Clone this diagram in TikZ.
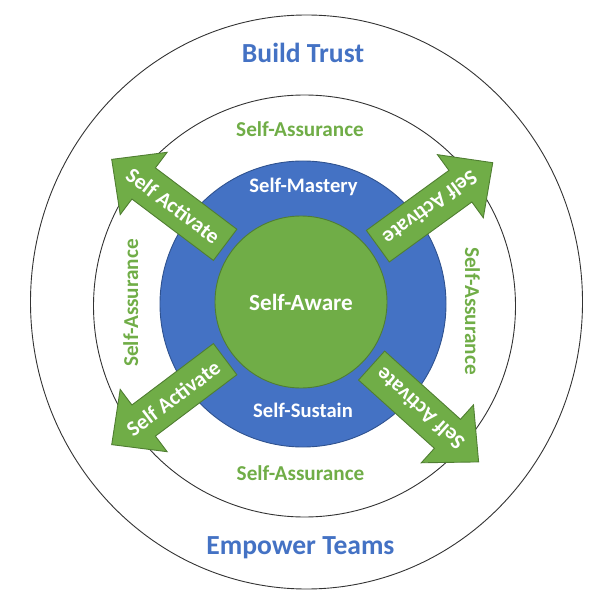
\documentclass[tikz,border=0pt]{standalone}
\usepackage{fontspec}
\setmainfont{Carlito}
\usetikzlibrary{positioning, shapes.geometric}

\definecolor{ringblue}{HTML}{4472C4}
\definecolor{ringblueline}{HTML}{2F528F}
\definecolor{coregreen}{HTML}{70AD47}
\definecolor{coregreenline}{HTML}{507E32}

\begin{document}
\begin{tikzpicture}[
    x=1pt, y=-1pt,
    ring/.style={
        draw=black!80,
        line width=0.9pt,
        inner sep=0pt
    },
    disc/.style={
        circle,
        line width=0.9pt,
        inner sep=0pt
    },
    title/.style={
        font=\fontsize{27.6}{32}\selectfont\bfseries,
        text=ringblue,
        anchor=base
    },
    assure/.style={
        font=\fontsize{21.2}{25}\selectfont\bfseries,
        text=coregreen,
        anchor=base
    },
    inlabel/.style={
        font=\fontsize{20.6}{24}\selectfont\bfseries,
        text=white,
        anchor=base
    },
    actarrow/.style={
        fill=coregreen,
        draw=coregreenline,
        line width=0.9pt
    },
    acttext/.style={
        font=\fontsize{21.5}{25}\selectfont\bfseries,
        text=white
    }
]
\useasboundingbox (0,0) rectangle (608,599);

% rings
\node[ring, ellipse, minimum width=552pt, minimum height=574pt] (trustring) at (306.5,302) {};
\node[ring, circle, minimum size=422pt] (assurering) at (304.5,306) {};

% core discs
\node[disc, fill=ringblue, draw=ringblueline, minimum size=286pt] (mastery) at (303,304) {};
\node[disc, fill=coregreen, draw=coregreenline, minimum size=172pt,
      font=\fontsize{23.2}{27}\selectfont\bfseries, text=white] (aware) at (301,302) {Self-Aware};

% outer labels
\node[title] (trust) at (303,63) {Build Trust};
\node[title] (empower) at (300.5,554) {Empower Teams};
\node[assure] (assureN) at (300,137) {Self-Assurance};
\node[assure] (assureS) at (300.5,480.5) {Self-Assurance};
\node[assure, rotate=90] (assureW) at (138,303) {Self-Assurance};
\node[assure, rotate=-90] (assureE) at (465,311) {Self-Assurance};

% labels on the blue disc
\node[inlabel] (masteryLbl) at (303.5,193) {Self-Mastery};
\node[inlabel] (sustainLbl) at (303,417) {Self-Sustain};

% self activate arrows
\begin{scope}[shift={(301,302)}, rotate=143]
  \draw[actarrow] (95,-19.5) -- (197,-19.5) -- (197,-39) -- (237,0) -- (197,39) -- (197,19.5) -- (95,19.5) -- cycle;
  \node[acttext, rotate=323] (actNW) at (160,0) {Self Activate};
\end{scope}
\begin{scope}[shift={(301,302)}, rotate=36]
  \draw[actarrow] (95,-19.5) -- (197,-19.5) -- (197,-39) -- (237,0) -- (197,39) -- (197,19.5) -- (95,19.5) -- cycle;
  \node[acttext, rotate=216] (actNE) at (160,0) {Self Activate};
\end{scope}
\begin{scope}[shift={(301,302)}, rotate=217]
  \draw[actarrow] (95,-19.5) -- (197,-19.5) -- (197,-39) -- (237,0) -- (197,39) -- (197,19.5) -- (95,19.5) -- cycle;
  \node[acttext, rotate=37] (actSW) at (160,0) {Self Activate};
\end{scope}
\begin{scope}[shift={(301,302)}, rotate=-42]
  \draw[actarrow] (95,-19.5) -- (197,-19.5) -- (197,-39) -- (239,0) -- (197,39) -- (197,19.5) -- (95,19.5) -- cycle;
  \node[acttext, rotate=138] (actSE) at (160,0) {Self Activate};
\end{scope}

\end{tikzpicture}
\end{document}
